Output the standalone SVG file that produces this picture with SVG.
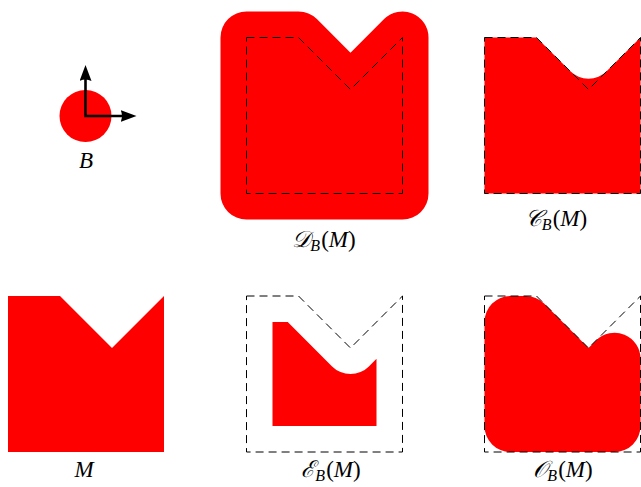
<svg xmlns="http://www.w3.org/2000/svg" xmlns:xlink="http://www.w3.org/1999/xlink" width="641" height="487" viewBox="0 0 641 487">
<style>
.shape{fill:#ff0000;stroke:none}
.outline{fill:none;stroke:#000;stroke-width:1;stroke-dasharray:8 5}
.lbl{font-family:"Liberation Serif","DejaVu Serif",serif;font-size:23px;font-style:italic;fill:#000}
.sub{font-size:16px}
.up{font-style:normal}
.axis{fill:none;stroke:#000;stroke-width:2.6;stroke-linejoin:miter;marker-start:url(#head);marker-end:url(#head)}
</style>
<defs>
<path id="m" d="M0,0 H52 L104,52 L156,0 V156 H0 Z"/>
<marker id="head" viewBox="0 0 16 12" refX="2" refY="6" markerWidth="16" markerHeight="12" markerUnits="userSpaceOnUse" orient="auto-start-reverse">
<path d="M0,0 L16,6 L0,12 Q3,6 0,0 Z" fill="#000"/>
</marker>
</defs>

<g id="ball">
<circle cx="85.5" cy="116" r="26" class="shape"/>
<polyline class="axis" points="85.5,79 85.5,116 122.5,116"/>
<text class="lbl" x="86" y="168" text-anchor="middle">B</text>
</g>

<g id="dilation">
<path class="shape" d="M220.5,37.5 A26,26 0 0 1 246.5,11.5 L298.5,11.5 A26,26 0 0 1 316.885,19.115 L350.5,52.73 L384.115,19.115 A26,26 0 0 1 428.5,37.5 L428.5,193.5 A26,26 0 0 1 402.5,219.5 L246.5,219.5 A26,26 0 0 1 220.5,193.5 Z"/>
<use xlink:href="#m" href="#m" class="outline" transform="translate(246.5,37.5)"/>
<text class="lbl" x="324" y="247" text-anchor="middle">𝒟<tspan class="sub" dy="4">B</tspan><tspan class="up" dx="1" dy="-4">(</tspan>M<tspan class="up">)</tspan></text>
</g>

<g id="closing">
<path class="shape" d="M484.5,37.5 L536.5,37.5 L570.115,71.115 A26,26 0 0 0 606.885,71.115 L640.5,37.5 L640.5,193.5 L484.5,193.5 Z"/>
<use xlink:href="#m" href="#m" class="outline" transform="translate(484.5,37.5)"/>
<text class="lbl" x="556" y="226" text-anchor="middle">𝒞<tspan class="sub" dy="4">B</tspan><tspan class="up" dx="1" dy="-4">(</tspan>M<tspan class="up">)</tspan></text>
</g>

<g id="set-m">
<use xlink:href="#m" href="#m" class="shape" transform="translate(8,296)"/>
<text class="lbl" x="84" y="477" text-anchor="middle">M</text>
</g>

<g id="erosion">
<path class="shape" d="M272.5,322 L287.73,322 L332.115,366.385 A26,26 0 0 0 368.885,366.385 L376.5,358.77 L376.5,426 L272.5,426 Z"/>
<use xlink:href="#m" href="#m" class="outline" transform="translate(246.5,296)"/>
<text class="lbl" x="331" y="477" text-anchor="middle">ℰ<tspan class="sub" dy="4">B</tspan><tspan class="up" dx="1" dy="-4">(</tspan>M<tspan class="up">)</tspan></text>
</g>

<g id="opening">
<path class="shape" d="M510.5,296 L525.73,296 A26,26 0 0 1 544.115,303.615 L588.5,348 L596.115,340.385 A26,26 0 0 1 640.5,358.77 L640.5,426 A26,26 0 0 1 614.5,452 L510.5,452 A26,26 0 0 1 484.5,426 L484.5,322 A26,26 0 0 1 510.5,296 Z"/>
<use xlink:href="#m" href="#m" class="outline" transform="translate(484.5,296)"/>
<text class="lbl" x="563" y="477" text-anchor="middle">𝒪<tspan class="sub" dy="4">B</tspan><tspan class="up" dx="1" dy="-4">(</tspan>M<tspan class="up">)</tspan></text>
</g>
</svg>
